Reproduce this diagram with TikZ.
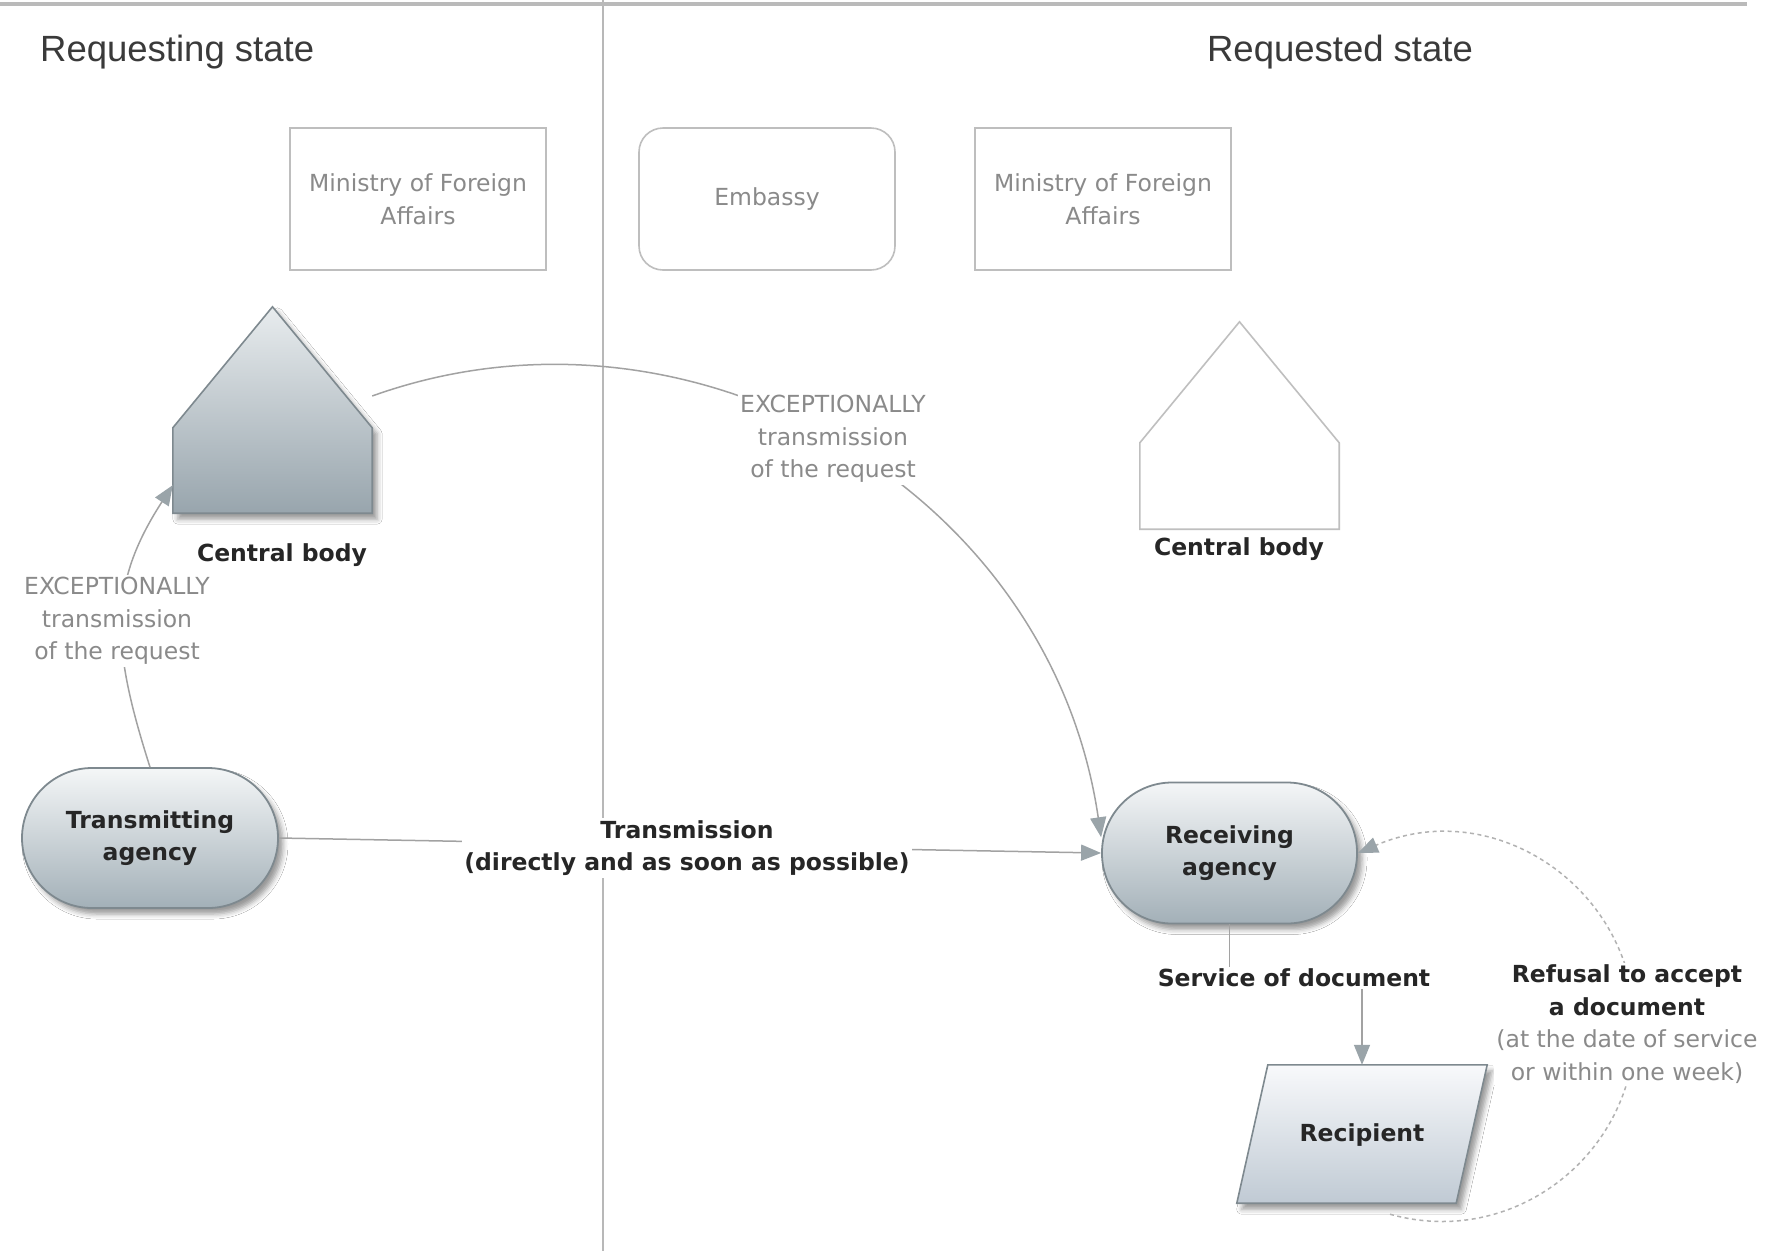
\documentclass[tikz,border=0pt]{standalone}
\usepackage{fontspec}
\setmainfont{DejaVu Sans}
\newfontfamily\titlefont{Liberation Sans}
\usetikzlibrary{arrows.meta,calc,shadows,shadows.blur}

\definecolor{lineGrey}{HTML}{A2A2A2}
\definecolor{tipGrey}{HTML}{9AA4A9}
\definecolor{labelGrey}{HTML}{8A8A8A}
\definecolor{textDark}{HTML}{262626}
\definecolor{titleGrey}{HTML}{3A3A3A}
\definecolor{boxLine}{HTML}{BEBEBE}
\definecolor{shapeLine}{HTML}{7E898F}
\definecolor{agTop}{HTML}{F4F6F7}
\definecolor{agBot}{HTML}{A3B0B8}
\definecolor{hsTop}{HTML}{E8ECEE}
\definecolor{hsBot}{HTML}{98A5AD}
\definecolor{rcTop}{HTML}{F8F9FB}
\definecolor{rcBot}{HTML}{C0CAD4}

\tikzset{
  txt/.style={font=\fontsize{23.5}{32.5}\selectfont, align=center, inner sep=2pt},
  boldlbl/.style={font=\fontsize{23.5}{32.5}\selectfont\bfseries, align=center, inner sep=2pt, text=textDark},
  greylbl/.style={txt, text=labelGrey},
  softshadow/.style={blur shadow={shadow xshift=5pt, shadow yshift=-6pt, shadow blur radius=5pt, shadow opacity=40}},
  infobox/.style={greylbl, rectangle, draw=boxLine, line width=1.6pt, minimum width=256pt, minimum height=142pt},
  agency/.style={boldlbl, rectangle, rounded corners=70pt, minimum width=256pt, minimum height=140pt,
    draw=shapeLine, line width=1.8pt, top color=agTop, bottom color=agBot, softshadow},
  frame/.style={rectangle, inner sep=0pt, draw=none},
  conn/.style={draw=lineGrey, line width=1.5pt, -{Triangle[length=20pt,width=16pt,color=tipGrey]}},
}

\begin{document}
\begin{tikzpicture}[x=1pt,y=-1pt]
  \fill[white] (0,0) rectangle (1775,1254);
  \useasboundingbox (0,0) rectangle (1775,1254);

  % page rules
  \draw[line width=2pt, color=black!28] (603,0) -- (603,1251);
  \draw[line width=4.5pt, color=black!27] (0,4) -- (1747,4);

  % column titles
  \node[anchor=base west, inner sep=0pt, font=\titlefont\fontsize{36.5}{40}\selectfont, text=titleGrey]
    (tReq) at (40,61) {Requesting state};
  \node[anchor=base, inner sep=0pt, font=\titlefont\fontsize{36.5}{40}\selectfont, text=titleGrey]
    (tRqd) at (1340,61) {Requested state};

  % upper boxes
  \node[infobox] (mfaL) at (418,199) {Ministry of Foreign\\Affairs};
  \node[infobox, rounded corners=24pt] (emb) at (767,199) {Embassy};
  \node[infobox] (mfaR) at (1103,199) {Ministry of Foreign\\Affairs};

  % central body, requesting state
  \node[frame, minimum width=199pt, minimum height=206pt] (cbL) at (272.5,410) {};
  \path[draw=shapeLine, line width=1.6pt, top color=hsTop, bottom color=hsBot, softshadow]
    (cbL.south west) -- ($(cbL.north west)+(0,121)$) -- (cbL.north)
    -- ($(cbL.north east)+(0,121)$) -- (cbL.south east) -- cycle;
  \node[boldlbl] (cbLtxt) at (282,555) {Central body};

  % central body, requested state
  \node[frame, minimum width=199pt, minimum height=207pt] (cbR) at (1239.5,425.5) {};
  \draw[draw=black!25, line width=1.6pt, fill=white]
    (cbR.south west) -- ($(cbR.north west)+(0,121)$) -- (cbR.north)
    -- ($(cbR.north east)+(0,121)$) -- (cbR.south east) -- cycle;
  \node[boldlbl] (cbRtxt) at (1239,549) {Central body};

  % agencies
  \node[agency] (tx) at (150,838) {Transmitting\\agency};
  \node[agency, minimum width=255pt, minimum height=141pt] (rx) at (1229.5,853) {Receiving\\agency};

  % recipient
  \node[frame, minimum width=250pt, minimum height=138pt] (recip) at (1362,1134) {};
  \path[draw=shapeLine, line width=1.6pt, top color=rcTop, bottom color=rcBot, softshadow]
    (recip.south west) -- ($(recip.north west)+(31,0)$) -- (recip.north east)
    -- ($(recip.south east)+(-31,0)$) -- cycle;
  \node[boldlbl] (reciptxt) at ($(recip.center)+(0,1)$) {Recipient};

  % connectors
  \draw[conn] (tx.north) .. controls (111,645) and (108,585) .. (cbL.217);
  \draw[conn] (cbL.8) .. controls (690,282) and (1050,488) .. (rx.173);
  \draw[conn] (tx.east) -- (rx.west);
  \coordinate (svcpt) at (1294,978);
  \draw[conn] (rx.south) |- (svcpt) -| (recip.north);
  \coordinate (refA) at ($(recip.south)+(28,11)$);
  \draw[conn, draw=black!30, dash pattern=on 4pt off 3.5pt]
    (refA) .. controls (1513,1249) and (1635,1155) .. (1635,1027)
    .. controls (1635,889) and (1495,794) .. (rx.east);

  % connector labels
  \node[greylbl, fill=white] (exL) at (117,621) {EXCEPTIONALLY\\transmission\\of the request};
  \node[greylbl, fill=white] (exR) at (833,439) {EXCEPTIONALLY\\transmission\\of the request};
  \node[boldlbl, fill=white] (trans) at (687,848) {Transmission\\(directly and as soon as possible)};
  \node[boldlbl, fill=white] (svc) at (svcpt) {Service of document};
  \node[boldlbl, fill=white] (refusal) at (1627,1024)
    {Refusal to accept\\a document\\{\mdseries\color{labelGrey}(at the date of service}\\{\mdseries\color{labelGrey}or within one week)}};
\end{tikzpicture}
\end{document}
